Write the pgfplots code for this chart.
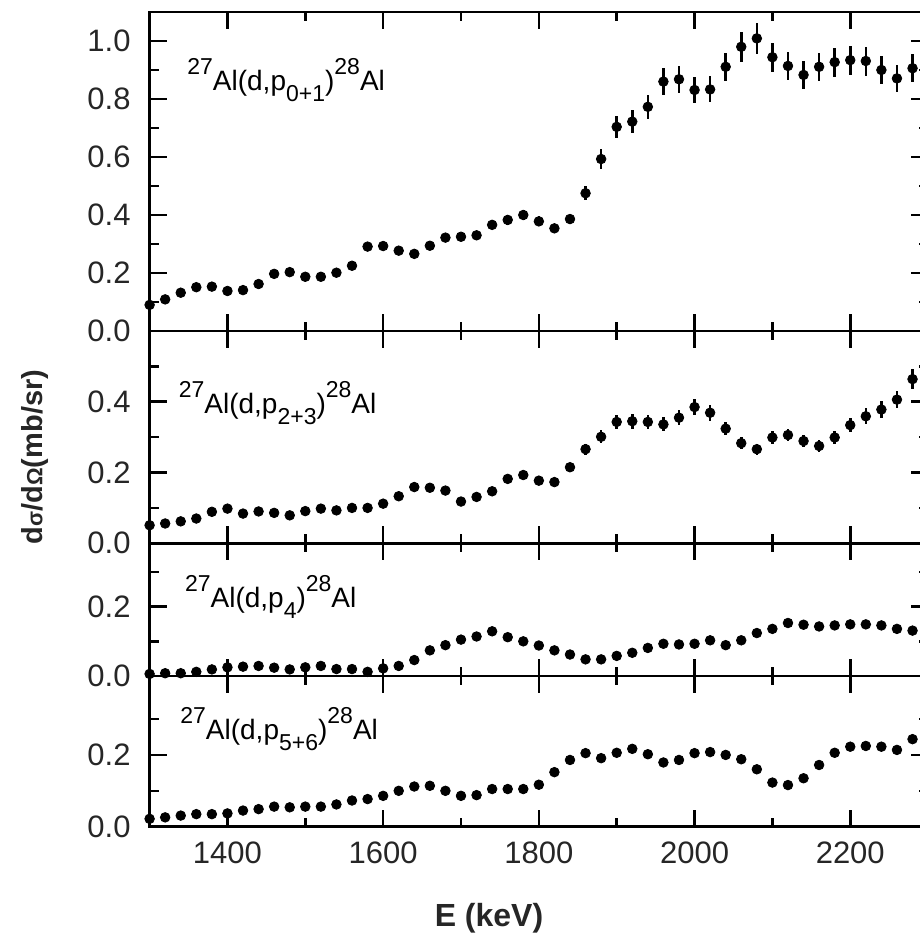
\documentclass[border=0pt]{standalone}
\usepackage{fontspec}
\setmainfont{Liberation Sans}
\usepackage{pgfplots}
\pgfplotsset{compat=1.18}

\newcommand{\supx}[1]{\raisebox{8pt}{\fontsize{11.5}{11.5}\selectfont #1}}
\newcommand{\subx}[1]{\raisebox{-5.5pt}{\fontsize{11.5}{11.5}\selectfont #1}}
\newcommand{\reac}[1]{\fontsize{14}{14}\selectfont\supx{27}Al(d,p\subx{#1})\supx{28}Al}

\pgfplotsset{
  panel/.style={
    scale only axis, width=389.25pt,
    xmin=1300, xmax=2300,
    xtick={1400,1600,1800,2000,2200},
    minor xtick={1300,1500,1700,1900,2100,2300},
    tick align=inside, tick pos=both,
    major tick length=8.5pt, minor tick length=4.5pt,
    every tick/.style={black, line width=1.3pt},
    axis line style={line width=1.3pt},
    /pgf/number format/assume math mode=true,
    /pgf/number format/1000 sep={},
    tick label style={font=\fontsize{15.5}{15.5}\selectfont, text=black!85},
    yticklabel style={xshift=-6pt, /pgf/number format/fixed, /pgf/number format/fixed zerofill, /pgf/number format/precision=1},
    xticklabel style={yshift=-3.8pt},
    ymin=0,
  },
  pts/.style={only marks, mark=*, mark size=2.4pt, black,
    mark options={fill=black, draw=black},
    error bars/.cd, y dir=both, y explicit,
    error bar style={line width=1.3pt, black}, error mark=none},
}

\begin{document}
\begin{tikzpicture}

% ---------- panel 1 ----------
\begin{axis}[panel, at={(0,247.85pt)}, anchor=south west, height=159.5pt,
  ymax=1.1, ytick={0,0.2,0.4,0.6,0.8,1.0}, minor ytick={0.1,0.3,0.5,0.7,0.9},
  xticklabels={}]
\addplot[pts] table[x=x, y=y, y error=e] {
x y e
1300 0.090 0.004
1320 0.109 0.005
1340 0.132 0.006
1360 0.151 0.007
1380 0.153 0.007
1400 0.138 0.006
1420 0.141 0.006
1440 0.162 0.007
1460 0.197 0.008
1480 0.203 0.009
1500 0.187 0.008
1520 0.187 0.008
1540 0.201 0.009
1560 0.225 0.010
1580 0.291 0.013
1600 0.293 0.013
1620 0.277 0.012
1640 0.266 0.012
1660 0.294 0.013
1680 0.322 0.014
1700 0.325 0.014
1720 0.330 0.015
1740 0.366 0.016
1760 0.383 0.017
1780 0.400 0.018
1800 0.378 0.017
1820 0.354 0.016
1840 0.386 0.017
1860 0.475 0.024
1880 0.593 0.033
1900 0.704 0.038
1920 0.722 0.039
1940 0.773 0.042
1960 0.860 0.046
1980 0.868 0.047
2000 0.831 0.045
2020 0.833 0.045
2040 0.911 0.049
2060 0.980 0.052
2080 1.009 0.054
2100 0.944 0.050
2120 0.914 0.049
2140 0.883 0.047
2160 0.911 0.049
2180 0.927 0.050
2200 0.934 0.050
2220 0.931 0.050
2240 0.900 0.048
2260 0.871 0.047
2280 0.906 0.049
};
\node[anchor=base west, inner sep=0] at (axis cs:1348,0.831) {\reac{0+1}};
\end{axis}

% ---------- panel 2 ----------
\begin{axis}[panel, at={(0,141.7pt)}, anchor=south west, height=106.15pt,
  ymax=0.6, ytick={0,0.2,0.4}, minor ytick={0.1,0.3,0.5},
  xticklabels={}]
\addplot[pts] table[x=x, y=y, y error=e] {
x y e
1300 0.051 0.003
1320 0.056 0.003
1340 0.062 0.004
1360 0.070 0.004
1380 0.089 0.005
1400 0.098 0.006
1420 0.084 0.005
1440 0.090 0.005
1460 0.086 0.005
1480 0.079 0.005
1500 0.091 0.005
1520 0.098 0.006
1540 0.093 0.006
1560 0.100 0.006
1580 0.100 0.006
1600 0.112 0.007
1620 0.133 0.008
1640 0.159 0.010
1660 0.157 0.009
1680 0.149 0.009
1700 0.118 0.007
1720 0.131 0.008
1740 0.147 0.009
1760 0.182 0.011
1780 0.193 0.012
1800 0.177 0.011
1820 0.173 0.010
1840 0.215 0.013
1860 0.266 0.016
1880 0.301 0.018
1900 0.343 0.021
1920 0.345 0.021
1940 0.343 0.021
1960 0.336 0.020
1980 0.355 0.021
2000 0.385 0.023
2020 0.369 0.022
2040 0.324 0.019
2060 0.283 0.017
2080 0.266 0.016
2100 0.299 0.018
2120 0.306 0.018
2140 0.289 0.017
2160 0.275 0.017
2180 0.299 0.018
2200 0.334 0.020
2220 0.359 0.022
2240 0.378 0.023
2260 0.406 0.024
2280 0.464 0.028
};
\node[anchor=base west, inner sep=0] at (axis cs:1337,0.367) {\reac{2+3}};
\end{axis}

% ---------- panel 3 ----------
\begin{axis}[panel, at={(0,75.35pt)}, anchor=south west, height=66.35pt,
  ymax=0.383, ytick={0,0.2}, minor ytick={0.1,0.3},
  xticklabels={}]
\addplot[pts] table[x=x, y=y, y error=e] {
x y e
1300 0.006 0.000
1320 0.008 0.000
1340 0.008 0.000
1360 0.012 0.001
1380 0.019 0.001
1400 0.025 0.001
1420 0.027 0.001
1440 0.029 0.001
1460 0.024 0.001
1480 0.019 0.001
1500 0.025 0.001
1520 0.029 0.001
1540 0.020 0.001
1560 0.020 0.001
1580 0.012 0.001
1600 0.022 0.001
1620 0.029 0.001
1640 0.046 0.002
1660 0.074 0.004
1680 0.089 0.004
1700 0.105 0.005
1720 0.114 0.006
1740 0.129 0.006
1760 0.112 0.006
1780 0.100 0.005
1800 0.088 0.004
1820 0.074 0.004
1840 0.062 0.003
1860 0.048 0.002
1880 0.048 0.002
1900 0.058 0.003
1920 0.067 0.003
1940 0.081 0.004
1960 0.093 0.005
1980 0.091 0.005
2000 0.093 0.005
2020 0.103 0.005
2040 0.089 0.004
2060 0.103 0.005
2080 0.124 0.006
2100 0.136 0.007
2120 0.153 0.008
2140 0.148 0.007
2160 0.143 0.007
2180 0.146 0.007
2200 0.149 0.007
2220 0.149 0.007
2240 0.146 0.007
2260 0.136 0.007
2280 0.131 0.007
};
\node[anchor=base west, inner sep=0] at (axis cs:1345,0.197) {\reac{4}};
\end{axis}

% ---------- panel 4 ----------
\begin{axis}[panel, at={(0,0pt)}, anchor=south west, height=75.35pt,
  ymax=0.42, ytick={0,0.2}, minor ytick={0.1,0.3}]
\addplot[pts] table[x=x, y=y, y error=e] {
x y e
1300 0.022 0.001
1320 0.026 0.001
1340 0.031 0.002
1360 0.035 0.002
1380 0.035 0.002
1400 0.037 0.002
1420 0.045 0.002
1440 0.049 0.002
1460 0.056 0.003
1480 0.054 0.003
1500 0.056 0.003
1520 0.056 0.003
1540 0.062 0.003
1560 0.073 0.004
1580 0.077 0.004
1600 0.086 0.004
1620 0.100 0.005
1640 0.112 0.006
1660 0.114 0.006
1680 0.100 0.005
1700 0.086 0.004
1720 0.088 0.004
1740 0.105 0.005
1760 0.105 0.005
1780 0.105 0.005
1800 0.117 0.006
1820 0.152 0.008
1840 0.186 0.009
1860 0.205 0.010
1880 0.191 0.010
1900 0.206 0.010
1920 0.217 0.011
1940 0.202 0.010
1960 0.179 0.009
1980 0.186 0.009
2000 0.205 0.010
2020 0.208 0.010
2040 0.200 0.010
2060 0.188 0.009
2080 0.160 0.008
2100 0.123 0.006
2120 0.116 0.006
2140 0.135 0.007
2160 0.172 0.009
2180 0.206 0.010
2200 0.223 0.011
2220 0.225 0.011
2240 0.223 0.011
2260 0.214 0.011
2280 0.244 0.012
};
\node[anchor=base west, inner sep=0] at (axis cs:1339,0.244) {\reac{5+6}};
\end{axis}

\node[rotate=90, font=\bfseries\fontsize{14.5}{14.5}\selectfont, text=black!85]
  at (-57.3pt,184.85pt) {d{\fontsize{11}{11}\selectfont σ}/d{\fontsize{11}{11}\selectfont Ω}(mb/sr)};
\node[font=\bfseries\fontsize{16}{16}\selectfont, text=black!85] at (169.7pt,-45.65pt) {E (keV)};

\pgfresetboundingbox
\useasboundingbox (-74.8pt,-55.15pt) rectangle (385.2pt,413.35pt);
\end{tikzpicture}
\end{document}
